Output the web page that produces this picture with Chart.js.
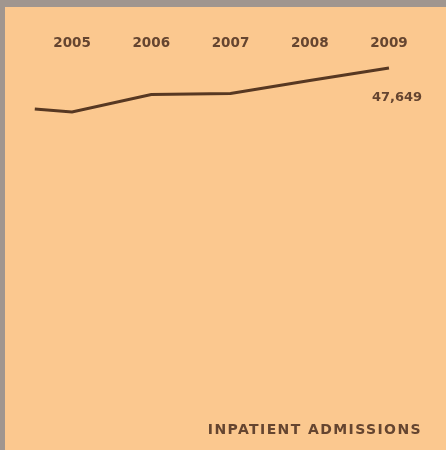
<!DOCTYPE html>
<html>
<head>
<meta charset="utf-8">
<title>Inpatient Admissions</title>
<script src="https://cdn.jsdelivr.net/npm/chart.js@4/dist/chart.umd.min.js"></script>
<style>
  html, body { margin: 0; padding: 0; background: #a0968f; width: 446px; height: 450px; overflow: hidden; }
  #panel { position: absolute; left: 5px; top: 7px; width: 441px; height: 443px; background: #fbc88f; }
  canvas { display: block; }
</style>
</head>
<body>
<div id="panel"><canvas id="chart" width="441" height="443"></canvas></div>
<script>
// Yearly inpatient admissions; the first entry is the short lead-in before 2005
const years = [2004.53, 2005, 2006, 2007, 2008, 2009];
const admissions = [43550, 43250, 45000, 45100, 46400, 47649];
const tickYears = [2005, 2006, 2007, 2008, 2009];
const caption = 'INPATIENT ADMISSIONS';
const endLabel = '47,649';

const INK = '#573822';
const TEXT = '#654530';

const captionPlugin = {
  id: 'captionAndEndLabel',
  afterDraw(chart) {
    const ctx = chart.ctx;
    const xs = chart.scales.x, ys = chart.scales.y;
    ctx.save();
    // value label under the last point
    const last = admissions.length - 1;
    const px = xs.getPixelForValue(years[last]);
    const py = ys.getPixelForValue(admissions[last]);
    ctx.fillStyle = TEXT;
    ctx.font = 'bold 13px "DejaVu Sans"';
    ctx.textAlign = 'center';
    ctx.textBaseline = 'middle';
    ctx.fillText(endLabel, px + 8, py + 30);
    // caption, bottom right
    ctx.font = 'bold 14px "DejaVu Sans"';
    ctx.letterSpacing = '1.4px';
    ctx.textAlign = 'right';
    ctx.fillText(caption, chart.width - 24, chart.height - 20);
    ctx.restore();
  }
};

new Chart(document.getElementById('chart'), {
  type: 'line',
  data: {
    datasets: [{
      data: years.map((y, i) => ({ x: y, y: admissions[i] })),
      borderColor: INK,
      borderWidth: 3.2,
      tension: 0,
      pointRadius: 0,
      fill: false
    }]
  },
  options: {
    responsive: false,
    animation: false,
    layout: { padding: { left: 27.4, right: 17.4, top: 0, bottom: 40 } },
    plugins: { legend: { display: false }, tooltip: { enabled: false } },
    scales: {
      x: {
        type: 'linear',
        position: 'top',
        min: 2004.5,
        max: 2009.5,
        afterBuildTicks: s => { s.ticks = tickYears.map(v => ({ value: v })); },
        afterFit: s => { s.height = 50; },
        ticks: {
          color: TEXT,
          font: { family: '"DejaVu Sans"', size: 13.5, weight: 'bold' },
          padding: 5,
          maxRotation: 0,
          callback: v => String(v)
        },
        grid: { display: false, drawTicks: false },
        border: { display: false }
      },
      y: {
        display: false,
        min: 13450,
        max: 48750
      }
    }
  },
  plugins: [captionPlugin]
});
</script>
</body>
</html>
